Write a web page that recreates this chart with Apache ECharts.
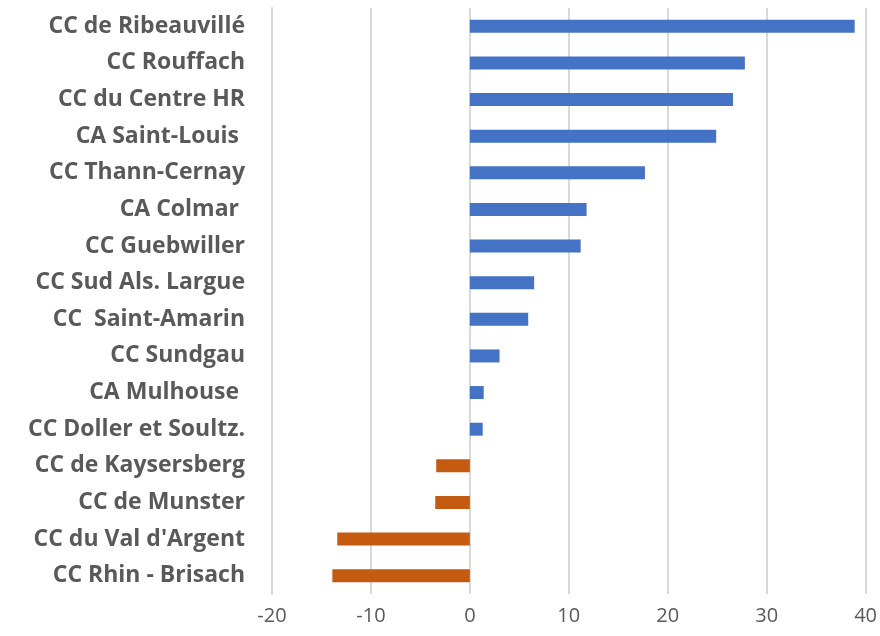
<!DOCTYPE html>
<html>
<head>
<meta charset="utf-8">
<script src="https://cdn.jsdelivr.net/npm/echarts@6/dist/echarts.min.js"></script>
<style>
  html, body { margin: 0; padding: 0; background: #fff; }
  #chart { width: 880px; height: 636px; }
</style>
</head>
<body>
<div id="chart"></div>
<script>
// communautés, listed top to bottom
const categories = [
  'CC de Ribeauvillé', 'CC Rouffach', 'CC du Centre HR', 'CA Saint-Louis ',
  'CC Thann-Cernay', 'CA Colmar ', 'CC Guebwiller', 'CC Sud Als. Largue',
  'CC  Saint-Amarin', 'CC Sundgau', 'CA Mulhouse ', 'CC Doller et Soultz.',
  'CC de Kaysersberg', 'CC de Munster', "CC du Val d'Argent", 'CC Rhin - Brisach'
]
const values = [
  38.9, 27.8, 26.6, 24.9,
  17.7, 11.8, 11.2, 6.5,
  5.9, 3.0, 1.4, 1.3,
  -3.4, -3.5, -13.4, -13.9
]
const xTicks = [-20, -10, 0, 10, 20, 30, 40]

const textColor = '#595959'
const gridColor = '#d9d9d9'

const myChart = echarts.init(document.getElementById('chart'))
const option = {
  animation: false,
  grid: { left: 272, right: 14, top: 8, bottom: 42 },
  xAxis: {
    type: 'value',
    min: xTicks[0],
    max: xTicks[xTicks.length - 1],
    interval: 10,
    axisLine: { show: false },
    axisTick: { show: false },
    axisLabel: { color: textColor, fontFamily: 'Open Sans', fontSize: 20, margin: 12 },
    splitLine: { lineStyle: { color: gridColor, width: 2 } }
  },
  yAxis: [{
    // labels at the left edge
    type: 'category',
    inverse: true,
    data: categories,
    axisLine: { show: false },
    axisTick: { show: false },
    axisLabel: {
      color: textColor, fontFamily: 'Open Sans', fontWeight: 'bold', fontSize: 23, margin: 27
    }
  }, {
    // axis line with ticks at zero
    type: 'category',
    inverse: true,
    position: 'left',
    data: categories,
    axisLine: { onZero: true, lineStyle: { color: gridColor, width: 2 } },
    axisTick: { length: 5, lineStyle: { color: gridColor, width: 2 } },
    axisLabel: { show: false }
  }],
  series: [{
    type: 'bar',
    yAxisIndex: 0,
    barWidth: 13,
    data: values,
    itemStyle: {
      color: p => (p.value < 0 ? '#c55a11' : '#4472c4')
    }
  }]
}
myChart.setOption(option)
</script>
</body>
</html>
